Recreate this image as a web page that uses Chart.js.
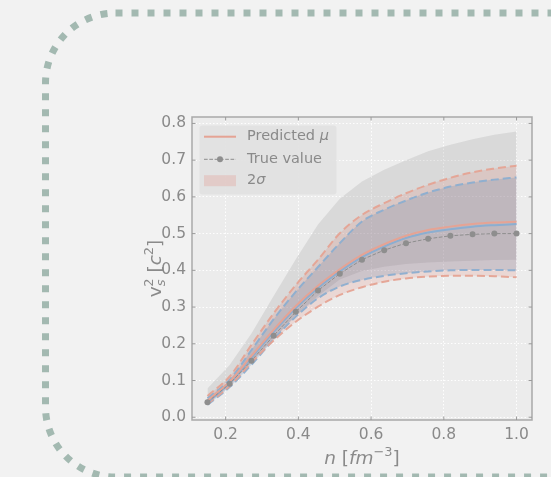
<!DOCTYPE html>
<html>
<head>
<meta charset="utf-8">
<script src="https://cdn.jsdelivr.net/npm/chart.js@4"></script>
<style>
  body { margin: 0; background: #f2f2f2; }
  #wrap { position: relative; width: 551px; height: 477px; overflow: hidden; }
  #frame { position: absolute; left: 0; top: 0; }
  #myChart { position: absolute; left: 0; top: 0; }
</style>
</head>
<body>
<div id="wrap">
  <svg id="frame" width="551" height="477">
    <rect x="45.5" y="13" width="620" height="464" rx="70" ry="70"
          fill="none" stroke="#a3b9b1" stroke-width="7" stroke-dasharray="7 9"/>
  </svg>
  <canvas id="myChart" width="551" height="477"></canvas>
</div>
<script>
// density grid (fm^-3) and values
const nDensity  = [0.15, 0.211, 0.271, 0.332, 0.393, 0.454, 0.514, 0.575, 0.636, 0.696, 0.757, 0.818, 0.879, 0.939, 1.0];
const trueValue = [0.041, 0.091, 0.154, 0.222, 0.287, 0.345, 0.391, 0.429, 0.455, 0.474, 0.486, 0.494, 0.498, 0.500, 0.500];
const predMu    = [0.045, 0.097, 0.167, 0.238, 0.303, 0.358, 0.403, 0.442, 0.471, 0.494, 0.510, 0.519, 0.526, 0.530, 0.532];
const blueMu    = [0.040, 0.093, 0.162, 0.232, 0.297, 0.352, 0.397, 0.436, 0.465, 0.488, 0.503, 0.512, 0.519, 0.523, 0.526];
const redUpper  = [0.058, 0.111, 0.197, 0.283, 0.360, 0.429, 0.501, 0.551, 0.583, 0.610, 0.633, 0.652, 0.667, 0.677, 0.685];
const redLower  = [0.036, 0.085, 0.149, 0.209, 0.260, 0.301, 0.333, 0.354, 0.369, 0.378, 0.383, 0.385, 0.385, 0.384, 0.381];
const blueUpper = [0.052, 0.102, 0.183, 0.267, 0.342, 0.409, 0.474, 0.533, 0.565, 0.590, 0.612, 0.628, 0.639, 0.647, 0.653];
const blueLower = [0.034, 0.082, 0.143, 0.212, 0.274, 0.324, 0.356, 0.374, 0.385, 0.392, 0.397, 0.400, 0.401, 0.401, 0.400];
const grayUpper = [0.078, 0.142, 0.228, 0.330, 0.430, 0.525, 0.595, 0.642, 0.674, 0.700, 0.724, 0.742, 0.757, 0.769, 0.778];
const grayLower = [0.038, 0.088, 0.150, 0.215, 0.278, 0.330, 0.375, 0.398, 0.410, 0.417, 0.421, 0.424, 0.426, 0.428, 0.429];

const xTicks = [0.2, 0.4, 0.6, 0.8, 1.0];
const yTicks = [0.0, 0.1, 0.2, 0.3, 0.4, 0.5, 0.6, 0.7, 0.8];
const legendLabels = ['Predicted ', 'True value', '2'];

const FONT = '"DejaVu Sans", sans-serif';
const TXT = '#8a8a8a';
const RED = 'rgba(229,163,148,1)';
const BLUE = 'rgba(140,174,208,1)';
const GRAYDOT = '#8e8e8e';

function pts(ys){
  return nDensity.map((x, i) => ({x: x, y: ys[i]}));
}

// draw text made of runs (italic / superscript / subscript)
function drawRuns(ctx, runs, cx, base, size){
  let w = 0;
  const parts = runs.map(r => {
    const s = (r.sup || r.sub) ? size*0.7 : size;
    const f = (r.it ? 'italic ' : '') + s + 'px ' + FONT;
    ctx.font = f;
    const m = ctx.measureText(r.t).width + (r.dx || 0);
    w += m;
    return {r, f, m};
  });
  let x = cx - w/2;
  ctx.textAlign = 'left';
  ctx.textBaseline = 'alphabetic';
  for (const p of parts){
    ctx.font = p.f;
    let dy = 0;
    if (p.r.sup) dy = -size*0.42;
    if (p.r.sub) dy = size*0.22;
    ctx.fillText(p.r.t, x + (p.r.dx || 0), base + dy);
    x += p.m;
  }
}

const decor = {
  id: 'decor',
  beforeDraw(chart){
    const {ctx, chartArea: a} = chart;
    ctx.save();
    ctx.fillStyle = '#ececec';
    ctx.fillRect(a.left, a.top, a.right - a.left, a.bottom - a.top);
    ctx.restore();
  },
  afterDraw(chart){
    const {ctx, chartArea: a} = chart;
    const xs = chart.scales.x, ys = chart.scales.y;
    ctx.save();
    // frame
    ctx.strokeStyle = '#a9a9a9';
    ctx.lineWidth = 1.5;
    ctx.strokeRect(a.left, a.top, a.right - a.left, a.bottom - a.top);
    // inward ticks
    ctx.strokeStyle = '#9a9a9a';
    ctx.lineWidth = 1;
    ctx.beginPath();
    xTicks.forEach(v => {
      const px = xs.getPixelForValue(v);
      ctx.moveTo(px, a.bottom); ctx.lineTo(px, a.bottom - 3.5);
      ctx.moveTo(px, a.top); ctx.lineTo(px, a.top + 3.5);
    });
    yTicks.forEach(v => {
      const py = ys.getPixelForValue(v);
      ctx.moveTo(a.left, py); ctx.lineTo(a.left + 3.5, py);
      ctx.moveTo(a.right, py); ctx.lineTo(a.right - 3.5, py);
    });
    ctx.stroke();

    // axis titles
    ctx.fillStyle = TXT;
    drawRuns(ctx, [
      {t: 'n', it: true}, {t: ' ['}, {t: 'fm', it: true}, {t: '\u22123', sup: true}, {t: ']'}
    ], (a.left + a.right)/2, 464, 18.5);
    ctx.save();
    ctx.translate(157, (a.top + a.bottom)/2);
    ctx.rotate(-Math.PI/2);
    drawRuns(ctx, [
      {t: 'v'}, {t: 's', it: true, sub: true}, {t: '2', sup: true, dx: -7}, {t: ' ['}, {t: 'c', it: true}, {t: '2', sup: true}, {t: ']'}
    ], 0, 4, 18.5);
    ctx.restore();

    // legend
    const lx = 199.5, ly = 125.5, lw = 137, lh = 69;
    ctx.fillStyle = 'rgba(226,226,226,0.95)';
    ctx.beginPath();
    ctx.roundRect(lx, ly, lw, lh, 3);
    ctx.fill();
    const hx0 = 204, hx1 = 236, tx = 247;
    const rows = [136.7, 159.3, 180.7];
    ctx.lineWidth = 2;
    ctx.strokeStyle = RED;
    ctx.beginPath(); ctx.moveTo(hx0, rows[0]); ctx.lineTo(hx1, rows[0]); ctx.stroke();
    ctx.lineWidth = 1;
    ctx.strokeStyle = GRAYDOT;
    ctx.setLineDash([3.7, 1.6]);
    ctx.beginPath(); ctx.moveTo(hx0, rows[1]); ctx.lineTo(hx1, rows[1]); ctx.stroke();
    ctx.setLineDash([]);
    ctx.fillStyle = GRAYDOT;
    ctx.beginPath(); ctx.arc(220, rows[1], 3, 0, Math.PI*2); ctx.fill();
    ctx.fillStyle = 'rgba(226,74,51,0.15)';
    ctx.fillRect(hx0, rows[2] - 5.5, hx1 - hx0, 11);

    ctx.fillStyle = TXT;
    ctx.textBaseline = 'middle';
    ctx.textAlign = 'left';
    ctx.font = '14.5px ' + FONT;
    ctx.fillText(legendLabels[0], tx, rows[0]);
    let w0 = ctx.measureText(legendLabels[0]).width;
    ctx.font = 'italic 14.5px ' + FONT;
    ctx.fillText('\u03bc', tx + w0, rows[0]);
    ctx.font = '14.5px ' + FONT;
    ctx.fillText(legendLabels[1], tx, rows[1]);
    ctx.fillText(legendLabels[2], tx, rows[2]);
    let w2 = ctx.measureText(legendLabels[2]).width;
    ctx.font = 'italic 14.5px ' + FONT;
    ctx.fillText('\u03c3', tx + w2, rows[2]);
    ctx.restore();
  }
};

const dashedLine = (ys, color, extra) => Object.assign({
  data: pts(ys), borderColor: color, borderWidth: 2, borderDash: [8, 4],
  pointRadius: 0, cubicInterpolationMode: 'monotone', fill: false
}, extra || {});

const data = {
  datasets: [
    { label: 'True value', data: pts(trueValue), borderColor: GRAYDOT, borderWidth: 1,
      borderDash: [3.7, 1.6], pointRadius: 3, pointBackgroundColor: GRAYDOT,
      pointBorderWidth: 0, tension: 0, fill: false },
    { label: 'Predicted mu', data: pts(predMu), borderColor: RED, borderWidth: 2,
      pointRadius: 0, cubicInterpolationMode: 'monotone', fill: false },
    { label: 'Model mean', data: pts(blueMu), borderColor: BLUE, borderWidth: 2,
      pointRadius: 0, cubicInterpolationMode: 'monotone', fill: false },
    dashedLine(redUpper, 'rgba(229,163,148,0.95)', { fill: {target: 4}, backgroundColor: 'rgba(226,74,51,0.13)' }),
    dashedLine(redLower, 'rgba(229,163,148,0.95)'),
    dashedLine(blueUpper, 'rgba(140,174,208,0.95)', { fill: {target: 6}, backgroundColor: 'rgba(60,120,180,0.19)' }),
    dashedLine(blueLower, 'rgba(140,174,208,0.95)'),
    { data: pts(grayUpper), borderColor: 'rgba(0,0,0,0)', borderWidth: 0, pointRadius: 0,
      tension: 0, fill: {target: 8}, backgroundColor: 'rgba(150,150,150,0.22)' },
    { data: pts(grayLower), borderColor: 'rgba(0,0,0,0)', borderWidth: 0, pointRadius: 0,
      tension: 0, fill: false }
  ]
};

const config = {
  type: 'line',
  data: data,
  options: {
    responsive: false,
    devicePixelRatio: 1,
    animation: false,
    layout: { padding: { left: 100, top: 117, right: 19, bottom: 0 } },
    plugins: {
      legend: { display: false },
      tooltip: { enabled: false },
      filler: { drawTime: 'beforeDatasetsDraw' }
    },
    scales: {
      x: {
        type: 'linear', min: 0.1075, max: 1.0425, z: 1,
        afterBuildTicks: s => { s.ticks = xTicks.map(v => ({value: v})); },
        afterFit: s => { s.height = 57; },
        ticks: { color: TXT, font: { family: FONT, size: 15.5 }, padding: 6,
                 callback: v => v.toFixed(1), maxRotation: 0, autoSkip: false },
        grid: { color: 'rgba(255,255,255,0.95)', lineWidth: 1, drawTicks: false },
        border: { display: false, dash: [1.5, 2] }
      },
      y: {
        type: 'linear', min: -0.0075, max: 0.8175, z: 1,
        afterBuildTicks: s => { s.ticks = yTicks.map(v => ({value: v})); },
        afterFit: s => { s.width = 92; },
        ticks: { color: TXT, font: { family: FONT, size: 15.5 }, padding: 6,
                 callback: v => v.toFixed(1), autoSkip: false },
        grid: { color: 'rgba(255,255,255,0.95)', lineWidth: 1, drawTicks: false },
        border: { display: false, dash: [1.5, 2] }
      }
    }
  },
  plugins: [decor]
};

const myChart = new Chart(document.getElementById('myChart'), config);
</script>
</body>
</html>
